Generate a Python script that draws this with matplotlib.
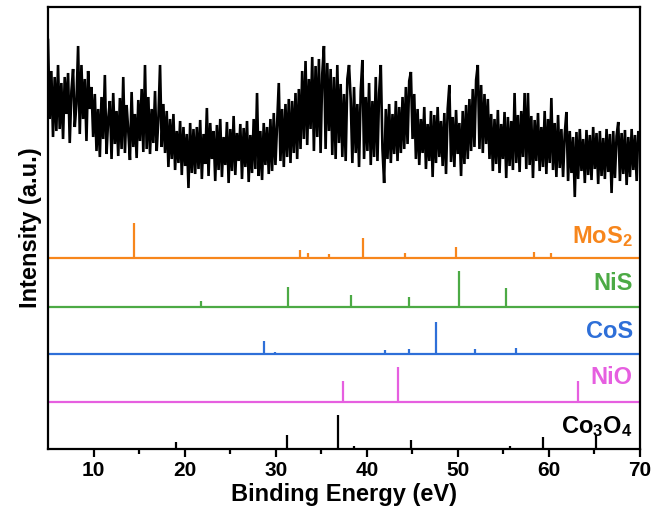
import numpy as np
import matplotlib
matplotlib.use("Agg")
import matplotlib.pyplot as plt

plt.rcParams['font.family'] = ['Liberation Sans', 'DejaVu Sans']
plt.rcParams['mathtext.fontset'] = 'custom'
plt.rcParams['mathtext.rm'] = 'Liberation Sans:bold'
plt.rcParams['mathtext.it'] = 'Liberation Sans:bold'
plt.rcParams['mathtext.bf'] = 'Liberation Sans:bold'

# measured spectrum (a.u.), evenly sampled from 5 to 70 eV
signal = [
    409, 330, 378, 312, 372, 318, 384,
    320, 366, 310, 372, 335, 376, 306, 358, 380, 322, 345, 403, 315, 384, 330, 370, 308, 378, 340, 362, 312,
    355, 298, 340, 292, 352, 310, 374, 295, 330, 348, 290, 356, 305, 338, 293, 351, 300, 372, 296, 344, 318, 289, 357, 302, 335, 291, 349, 308, 360, 297,
    384, 300, 352, 295, 340, 306, 358, 298, 330, 384, 302, 345,
    296, 338, 282, 330, 290, 335, 279, 318, 286, 328, 274, 322, 283, 315, 261, 326, 276, 320,
    275, 322, 280, 329, 270, 315, 285, 341, 273, 326, 290, 318, 268, 324, 279, 330, 272, 312, 284, 327, 266, 320, 278, 333, 274, 316, 288, 325, 270, 321, 282, 328, 267, 314, 276, 330, 280, 356, 273, 318, 269, 326, 284, 322, 275,
    330, 278, 336, 284, 325, 366, 288, 340, 282, 345, 292, 350, 286, 348, 296, 356, 290, 360,
    300, 378, 310, 388, 304, 370, 320, 392, 298, 383, 312, 390, 296, 375, 403, 300, 386, 318, 380, 294, 372, 290, 384, 306,
    365, 292, 355, 288, 370, 384, 350, 286, 362, 296, 345, 282, 358, 389, 290, 352, 298, 366, 284, 348, 292, 372, 288, 356,
    384, 300, 266, 340, 290, 345, 286, 335, 295, 348, 288, 342,
    296, 352, 300, 362, 305, 368, 377, 310, 355,
    290, 340, 284, 330, 296, 342, 280, 325, 288, 338, 272, 334, 286, 342, 292, 328, 283, 336, 275, 340, 364, 287, 332, 282, 339, 295, 326, 273, 338, 285, 344, 290, 350,
    298, 360, 302, 369, 384, 300, 364, 296, 355, 305, 350, 290,
    335, 278, 330, 285, 339, 276, 325, 290, 337, 271, 332, 283, 328, 279, 356, 286, 334, 277, 338, 292, 356, 280, 356, 284, 333, 271, 329, 288, 336, 278, 322, 282, 338, 275, 330, 286, 351, 279, 326, 272, 334, 281,
    320, 272, 315, 337, 268, 318, 276, 312, 252, 317, 270, 320, 278, 310, 266, 319, 274, 314, 269, 322, 280, 316, 265, 318, 273, 311, 270, 320, 277, 315, 256, 318, 271, 313, 327, 268, 316, 275, 319, 264, 312, 272, 320, 279, 314, 268, 318, 300,
]
energy = np.linspace(5, 70, len(signal))

# reference stick patterns: positions (eV) and relative heights
mos2_pos = [14.4, 32.7, 33.5, 35.9, 39.55, 44.2, 49.8, 56.0, 58.4, 60.2, 68.6]
mos2_h = [35, 7.7, 4.7, 4, 20, 4.3, 10.3, 1.2, 6, 4.7, 1.2]
nis_pos = [21.8, 31.4, 38.3, 44.6, 50.1, 55.3, 69.7]
nis_h = [6, 19.3, 12, 9.7, 35.3, 19, 1.2]
cos_pos = [28.7, 29.9, 33.3, 42.0, 44.6, 47.6, 49.6, 51.9, 56.4, 62.8, 69.6]
cos_h = [13.3, 2, 1, 4, 5.3, 32.3, 1, 5.3, 6.3, 1, 1.2]
nio_pos = [37.4, 43.46, 63.2]
nio_h = [20.7, 35, 20.7]
co3o4_pos = [19.0, 31.25, 36.8, 38.6, 44.85, 55.7, 59.4, 65.2]
co3o4_h = [7, 14, 34, 3, 9, 3, 12, 14]

labels = ["MoS$_2$", "NiS", "CoS", "NiO", "Co$_3$O$_4$"]
colors = ["#F7861C", "#4CAA45", "#2E6FD8", "#E65FE0", "#000000"]
offsets = [191.3, 142.3, 95.0, 47.3, 0.0]
label_y = [212, 166, 118, 72, 22]
patterns = [(mos2_pos, mos2_h), (nis_pos, nis_h), (cos_pos, cos_h),
            (nio_pos, nio_h), (co3o4_pos, co3o4_h)]

fig = plt.figure(figsize=(6.55, 5.18), dpi=100)
ax = fig.add_axes([48/655, 1-449/518, (640-48)/655, (449-7)/518])

ax.plot(energy, signal, color='black', lw=1.9, solid_joinstyle='miter')

for (pos, h), c, off, lab, ly in zip(patterns, colors, offsets, labels, label_y):
    if off > 0:
        ax.plot([5, 70], [off, off], color=c, lw=1.6, solid_capstyle='butt')
    ax.vlines(pos, off, np.array(h) + off, color=c, lw=1.6)
    ax.text(69.2, ly, lab, color=c, fontsize=17, fontweight='bold',
            ha='right', va='center')

ax.set_xlim(5, 70)
ax.set_ylim(0, 442)
ax.set_yticks([])
ax.set_xticks([10, 20, 30, 40, 50, 60, 70])
ax.set_xticks([15, 25, 35, 45, 55, 65], minor=True)
ax.tick_params(axis='x', which='major', direction='out', length=6, width=1.6,
               labelsize=15, pad=3)
ax.tick_params(axis='x', which='minor', direction='out', length=3.5, width=1.6)
for lab in ax.get_xticklabels():
    lab.set_fontweight('bold')
for s in ax.spines.values():
    s.set_linewidth(1.6)

ax.set_xlabel("Binding Energy (eV)", fontsize=17, fontweight='bold', labelpad=2)
ax.set_ylabel("Intensity (a.u.)", fontsize=17, fontweight='bold', labelpad=4)

fig.savefig("out.png", dpi=100)
